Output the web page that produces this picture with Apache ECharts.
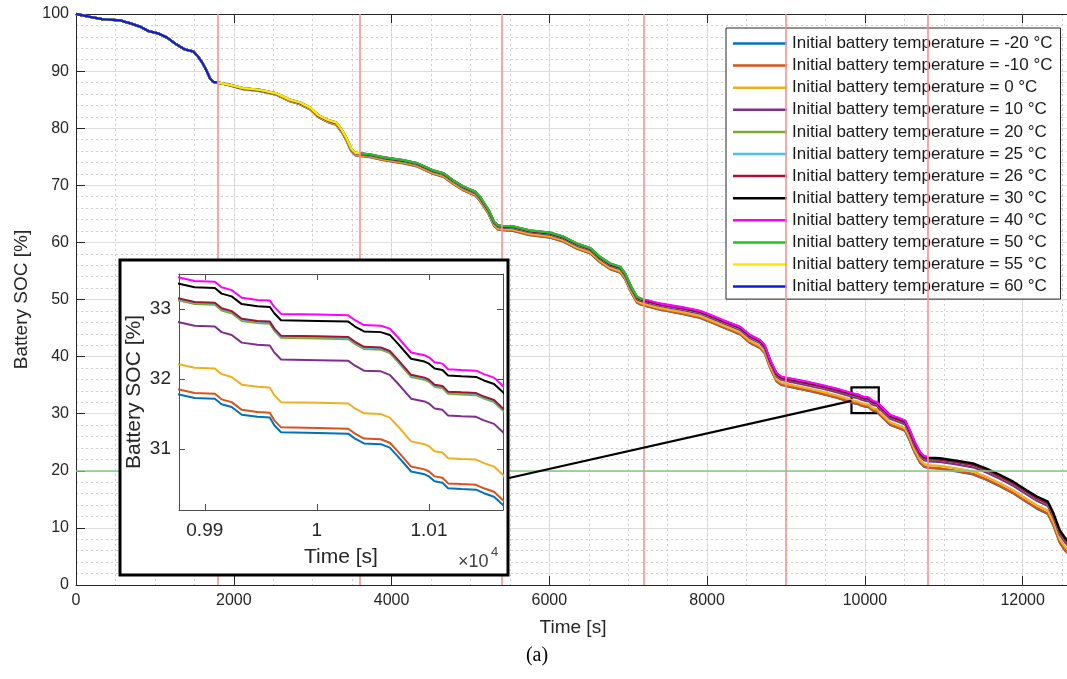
<!DOCTYPE html>
<html>
<head>
<meta charset="utf-8">
<script src="https://cdn.jsdelivr.net/npm/echarts@6/dist/echarts.min.js"></script>
<style>
html, body { margin: 0; padding: 0; background: #ffffff; }
#chart { width: 1067px; height: 679px; }
</style>
</head>
<body>
<div id="chart"></div>
<script>
// ---- Sample times [s] shared by every temperature case ----
const timeSec = [
  0, 180, 330, 560, 700, 810, 920, 1040, 1150, 1280, 1380, 1490, 1550, 1600, 1650, 1700, 1740, 1800,
  1950, 2120, 2330, 2540, 2710, 2840, 2970, 3070, 3200, 3300, 3370, 3430, 3490, 3540, 3600,
  3730, 3900, 4150, 4320, 4530, 4660, 4780, 4910, 5060, 5120, 5230, 5300, 5350, 5400,
  5540, 5750, 6010, 6180, 6350, 6520, 6640, 6770, 6900, 6960, 7040, 7110, 7150, 7200,
  7400, 7700, 7910, 8040, 8200, 8420, 8540, 8670, 8730, 8800, 8880, 8940, 9000,
  9260, 9430, 9640,
  9877, 9891, 9909, 9915, 9924, 9933, 9947, 9958, 9962, 9968, 10001, 10028, 10034, 10042, 10057,
  10065, 10072, 10078, 10084, 10096, 10100, 10105, 10112, 10117, 10129, 10142, 10149, 10158, 10166,
  10190, 10320, 10440, 10510, 10570, 10630, 10700, 10750, 10800,
  10950, 11160, 11370, 11540, 11710, 11880, 12050, 12180, 12320, 12390, 12470, 12540, 12600
];

// ---- Battery SOC [%] per initial battery temperature ----
const socM20 = [
  100, 99.5, 99.1, 98.9, 98.3, 97.8, 97.0, 96.6, 95.9, 94.6, 93.8, 93.4, 92.5, 91.5, 90.2, 88.7, 88.1, 88.0,
  87.49, 86.85, 86.51, 85.87, 84.73, 84.21, 83.28, 81.96, 81.03, 80.61, 79.30, 77.79, 75.97, 75.26, 75.15,
  74.93, 74.40, 73.86, 73.33, 72.00, 71.47, 70.25, 69.13, 68.21, 67.30, 64.98, 62.87, 62.26, 62.15,
  62.03, 61.29, 60.85, 60.12, 58.89, 58.06, 56.54, 55.32, 54.70, 53.59, 51.18, 49.47, 49.16, 48.95,
  48.21, 47.44, 46.79, 46.06, 45.13, 43.88, 42.45, 41.52, 40.61, 37.99, 35.68, 35.06, 34.85,
  34.09, 33.55, 32.80,
  31.78, 31.73, 31.72, 31.64, 31.60, 31.49, 31.46, 31.45, 31.34, 31.24, 31.23, 31.22, 31.15, 31.08, 31.07,
  31.02, 30.90, 30.79, 30.68, 30.64, 30.61, 30.54, 30.52, 30.44, 30.43, 30.42, 30.37, 30.32, 30.20,
  29.78, 28.04, 27.41, 26.99, 25.27, 23.25, 21.43, 20.72, 20.50,
  20.37, 19.92, 19.37, 18.43, 17.29, 16.05, 14.51, 13.38, 12.44, 10.43, 7.41, 5.99, 5.18
];
const socM10 = [
  100, 99.5, 99.1, 98.9, 98.3, 97.8, 97.0, 96.6, 95.9, 94.6, 93.8, 93.4, 92.5, 91.5, 90.2, 88.7, 88.1, 88.0,
  87.49, 86.86, 86.52, 85.88, 84.74, 84.22, 83.29, 81.97, 81.05, 80.63, 79.31, 77.80, 75.99, 75.28, 75.17,
  74.95, 74.42, 73.88, 73.35, 72.02, 71.50, 70.28, 69.16, 68.24, 67.33, 65.01, 62.90, 62.29, 62.18,
  62.06, 61.32, 60.88, 60.16, 58.93, 58.10, 56.58, 55.36, 54.74, 53.63, 51.22, 49.51, 49.20, 48.99,
  48.25, 47.49, 46.84, 46.11, 45.18, 43.93, 42.51, 41.58, 40.67, 38.05, 35.73, 35.12, 34.91,
  34.15, 33.61, 32.86,
  31.85, 31.80, 31.79, 31.71, 31.67, 31.56, 31.53, 31.52, 31.41, 31.31, 31.30, 31.29, 31.22, 31.15, 31.14,
  31.09, 30.97, 30.86, 30.75, 30.71, 30.68, 30.61, 30.59, 30.51, 30.50, 30.49, 30.44, 30.39, 30.27,
  29.85, 28.11, 27.48, 27.06, 25.34, 23.33, 21.51, 20.79, 20.58,
  20.44, 20.00, 19.45, 18.51, 17.37, 16.13, 14.60, 13.47, 12.53, 10.52, 7.50, 6.08, 5.27
];
const soc0 = [
  100, 99.5, 99.1, 98.9, 98.3, 97.8, 97.0, 96.6, 95.9, 94.6, 93.8, 93.4, 92.5, 91.5, 90.2, 88.7, 88.1, 88.0,
  87.52, 86.89, 86.56, 85.93, 84.80, 84.28, 83.36, 82.05, 81.13, 80.71, 79.40, 77.89, 76.08, 75.37, 75.27,
  75.05, 74.53, 74.00, 73.48, 72.15, 71.63, 70.42, 69.30, 68.38, 67.48, 65.16, 63.05, 62.45, 62.34,
  62.22, 61.50, 61.07, 60.34, 59.12, 58.30, 56.79, 55.57, 54.96, 53.85, 51.44, 49.73, 49.42, 49.22,
  48.49, 47.74, 47.10, 46.38, 45.45, 44.22, 42.80, 41.87, 40.96, 38.35, 36.04, 35.43, 35.22,
  34.48, 33.95, 33.21,
  32.21, 32.16, 32.15, 32.07, 32.03, 31.92, 31.89, 31.88, 31.77, 31.67, 31.66, 31.65, 31.58, 31.51, 31.50,
  31.45, 31.33, 31.22, 31.11, 31.07, 31.04, 30.97, 30.95, 30.87, 30.86, 30.85, 30.80, 30.75, 30.63,
  30.22, 28.49, 27.87, 27.45, 25.74, 23.72, 21.91, 21.20, 20.98,
  20.86, 20.43, 19.89, 18.96, 17.83, 16.60, 15.07, 13.95, 13.03, 11.01, 8.00, 6.59, 5.78
];
const soc10 = [
  100, 99.5, 99.1, 98.9, 98.3, 97.8, 97.0, 96.6, 95.9, 94.6, 93.8, 93.4, 92.5, 91.5, 90.2, 88.7, 88.1, 88.0,
  87.56, 86.94, 86.63, 86.01, 84.90, 84.39, 83.48, 82.17, 81.26, 80.85, 79.55, 78.04, 76.24, 75.53, 75.43,
  75.22, 74.71, 74.19, 73.68, 72.37, 71.86, 70.65, 69.54, 68.63, 67.73, 65.42, 63.32, 62.71, 62.61,
  62.50, 61.79, 61.37, 60.66, 59.45, 58.64, 57.13, 55.92, 55.32, 54.21, 51.81, 50.10, 49.80, 49.60,
  48.88, 48.15, 47.54, 46.82, 45.91, 44.69, 43.28, 42.37, 41.47, 38.86, 36.55, 35.95, 35.74,
  35.02, 34.50, 33.78,
  32.81, 32.76, 32.75, 32.67, 32.63, 32.52, 32.49, 32.48, 32.38, 32.28, 32.27, 32.26, 32.19, 32.12, 32.11,
  32.06, 31.94, 31.83, 31.72, 31.68, 31.65, 31.58, 31.56, 31.48, 31.47, 31.46, 31.41, 31.36, 31.24,
  30.84, 29.12, 28.51, 28.10, 26.40, 24.39, 22.58, 21.87, 21.67,
  21.56, 21.14, 20.62, 19.71, 18.60, 17.38, 15.87, 14.76, 13.85, 11.84, 8.83, 7.43, 6.62
];
const soc20 = [
  100, 99.5, 99.1, 98.9, 98.3, 97.8, 97.0, 96.6, 95.9, 94.6, 93.8, 93.4, 92.5, 91.5, 90.2, 88.7, 88.1, 88.0,
  87.57, 86.96, 86.66, 86.05, 84.94, 84.44, 83.53, 82.23, 81.32, 80.92, 79.62, 78.11, 76.31, 75.61, 75.51,
  75.29, 74.79, 74.28, 73.78, 72.47, 71.96, 70.76, 69.66, 68.75, 67.85, 65.55, 63.44, 62.84, 62.74,
  62.64, 61.93, 61.52, 60.82, 59.61, 58.81, 57.30, 56.10, 55.50, 54.39, 51.99, 50.29, 49.99, 49.79,
  49.07, 48.36, 47.75, 47.04, 46.13, 44.93, 43.52, 42.62, 41.71, 39.11, 36.81, 36.20, 36.00,
  35.29, 34.78, 34.07,
  33.12, 33.07, 33.06, 32.98, 32.94, 32.83, 32.80, 32.79, 32.69, 32.59, 32.58, 32.57, 32.50, 32.43, 32.42,
  32.37, 32.25, 32.14, 32.03, 31.99, 31.96, 31.89, 31.87, 31.79, 31.78, 31.77, 31.72, 31.67, 31.55,
  31.14, 29.44, 28.83, 28.43, 26.72, 24.72, 22.91, 22.21, 22.01,
  21.91, 21.50, 20.99, 20.09, 18.98, 17.78, 16.26, 15.16, 14.25, 12.25, 9.25, 7.84, 7.04
];
const soc25 = [
  100, 99.5, 99.1, 98.9, 98.3, 97.8, 97.0, 96.6, 95.9, 94.6, 93.8, 93.4, 92.5, 91.5, 90.2, 88.7, 88.1, 88.0,
  87.57, 86.96, 86.66, 86.05, 84.94, 84.44, 83.53, 82.23, 81.32, 80.92, 79.62, 78.11, 76.31, 75.61, 75.51,
  75.30, 74.80, 74.29, 73.79, 72.48, 71.97, 70.77, 69.67, 68.76, 67.86, 65.56, 63.45, 62.85, 62.75,
  62.65, 61.94, 61.53, 60.83, 59.62, 58.82, 57.31, 56.11, 55.51, 54.40, 52.00, 50.30, 50.00, 49.80,
  49.09, 48.38, 47.77, 47.06, 46.15, 44.95, 43.54, 42.64, 41.73, 39.13, 36.83, 36.22, 36.02,
  35.31, 34.80, 34.09,
  33.14, 33.09, 33.08, 33.00, 32.96, 32.85, 32.82, 32.81, 32.71, 32.61, 32.60, 32.59, 32.52, 32.45, 32.44,
  32.39, 32.27, 32.16, 32.05, 32.01, 31.98, 31.91, 31.89, 31.81, 31.80, 31.79, 31.74, 31.69, 31.57,
  31.17, 29.47, 28.86, 28.46, 26.75, 24.75, 22.94, 22.24, 22.04,
  21.94, 21.53, 21.02, 20.12, 19.01, 17.81, 16.30, 15.20, 14.29, 12.29, 9.29, 7.88, 7.08
];
const soc26 = [
  100, 99.5, 99.1, 98.9, 98.3, 97.8, 97.0, 96.6, 95.9, 94.6, 93.8, 93.4, 92.5, 91.5, 90.2, 88.7, 88.1, 88.0,
  87.58, 86.97, 86.67, 86.06, 84.95, 84.45, 83.54, 82.24, 81.33, 80.93, 79.63, 78.12, 76.32, 75.62, 75.52,
  75.31, 74.81, 74.30, 73.80, 72.49, 71.98, 70.78, 69.68, 68.77, 67.87, 65.57, 63.46, 62.86, 62.76,
  62.66, 61.95, 61.54, 60.84, 59.63, 58.83, 57.32, 56.12, 55.52, 54.41, 52.01, 50.31, 50.01, 49.81,
  49.10, 48.39, 47.78, 47.07, 46.16, 44.96, 43.55, 42.65, 41.74, 39.14, 36.84, 36.23, 36.03,
  35.32, 34.81, 34.10,
  33.15, 33.10, 33.09, 33.01, 32.97, 32.86, 32.83, 32.82, 32.72, 32.62, 32.61, 32.60, 32.53, 32.46, 32.45,
  32.40, 32.28, 32.17, 32.06, 32.02, 31.99, 31.92, 31.90, 31.82, 31.81, 31.80, 31.75, 31.70, 31.58,
  31.18, 29.48, 28.87, 28.47, 26.76, 24.76, 22.95, 22.25, 22.05,
  21.95, 21.54, 21.03, 20.13, 19.02, 17.82, 16.31, 15.21, 14.30, 12.30, 9.30, 7.89, 7.09
];
const soc30 = [
  100, 99.5, 99.1, 98.9, 98.3, 97.8, 97.0, 96.6, 95.9, 94.6, 93.8, 93.4, 92.5, 91.5, 90.2, 88.7, 88.1, 88.0,
  87.59, 86.99, 86.69, 86.09, 84.99, 84.48, 83.58, 82.28, 81.38, 80.98, 79.68, 78.18, 76.38, 75.68, 75.58,
  75.37, 74.87, 74.37, 73.87, 72.57, 72.07, 70.86, 69.76, 68.86, 67.96, 65.66, 63.56, 62.96, 62.86,
  62.76, 62.06, 61.65, 60.95, 59.75, 58.95, 57.45, 56.25, 55.65, 54.55, 52.15, 50.44, 50.14, 49.94,
  49.24, 48.54, 47.93, 47.23, 46.33, 45.13, 43.73, 42.83, 41.93, 39.32, 37.02, 36.42, 36.22,
  35.52, 35.02, 34.31,
  33.36, 33.31, 33.30, 33.22, 33.18, 33.07, 33.04, 33.03, 32.94, 32.84, 32.83, 32.82, 32.75, 32.68, 32.67,
  32.63, 32.51, 32.40, 32.29, 32.25, 32.22, 32.15, 32.13, 32.05, 32.04, 32.03, 31.98, 31.93, 31.81,
  31.41, 29.71, 29.10, 28.70, 27.00, 25.00, 23.20, 22.50, 22.30,
  22.2, 21.8, 21.3, 20.4, 19.3, 18.1, 16.6, 15.5, 14.6, 12.6, 9.6, 8.2, 7.4
];
// the warmer cases stop early (runs end at a cycle boundary)
const soc40 = [
  100, 99.5, 99.1, 98.9, 98.3, 97.8, 97.0, 96.6, 95.9, 94.6, 93.8, 93.4, 92.5, 91.5, 90.2, 88.7, 88.1, 88.0,
  87.6, 87.0, 86.7, 86.1, 85.0, 84.5, 83.6, 82.3, 81.4, 81.0, 79.7, 78.2, 76.4, 75.7, 75.6,
  75.4, 74.9, 74.4, 73.9, 72.6, 72.1, 70.9, 69.8, 68.9, 68.0, 65.7, 63.6, 63.0, 62.9,
  62.8, 62.1, 61.7, 61.0, 59.8, 59.0, 57.5, 56.3, 55.7, 54.6, 52.2, 50.5, 50.2, 50.0,
  49.3, 48.6, 48.0, 47.3, 46.4, 45.2, 43.8, 42.9, 42.0, 39.4, 37.1, 36.5, 36.3,
  35.6, 35.1, 34.4,
  33.45, 33.40, 33.39, 33.31, 33.27, 33.16, 33.13, 33.12, 33.03, 32.93, 32.92, 32.91, 32.84, 32.77, 32.76,
  32.72, 32.60, 32.49, 32.38, 32.34, 32.31, 32.24, 32.22, 32.14, 32.13, 32.12, 32.07, 32.02, 31.90,
  31.5, 29.8, 29.2, 28.8, 27.1, 25.1, 23.3, 22.6, 22.4
];
const soc50 = [
  100, 99.5, 99.1, 98.9, 98.3, 97.8, 97.0, 96.6, 95.9, 94.6, 93.8, 93.4, 92.5, 91.5, 90.2, 88.7, 88.1, 88.0,
  87.6, 87.0, 86.7, 86.1, 85.0, 84.5, 83.6, 82.3, 81.4, 81.0, 79.7, 78.2, 76.4, 75.7, 75.6,
  75.4, 74.9, 74.4, 73.9, 72.6, 72.1, 70.9, 69.8, 68.9, 68.0, 65.7, 63.6, 63.0, 62.9,
  62.8, 62.1, 61.7, 61.0, 59.8, 59.0, 57.5, 56.3, 55.7, 54.6, 52.2, 50.5, 50.2, 50.0
];
const soc55 = [
  100, 99.5, 99.1, 98.9, 98.3, 97.8, 97.0, 96.6, 95.9, 94.6, 93.8, 93.4, 92.5, 91.5, 90.2, 88.7, 88.1, 88.0,
  87.6, 87.0, 86.7, 86.1, 85.0, 84.5, 83.6, 82.3, 81.4, 81.0, 79.7, 78.2, 76.4, 75.7, 75.6
];
const soc60 = [
  100, 99.5, 99.1, 98.9, 98.3, 97.8, 97.0, 96.6, 95.9, 94.6, 93.8, 93.4, 92.5, 91.5, 90.2, 88.7, 88.1, 88.0
];

const seriesNames = [
  'Initial battery temperature = -20 °C',
  'Initial battery temperature = -10 °C',
  'Initial battery temperature = 0 °C',
  'Initial battery temperature = 10 °C',
  'Initial battery temperature = 20 °C',
  'Initial battery temperature = 25 °C',
  'Initial battery temperature = 26 °C',
  'Initial battery temperature = 30 °C',
  'Initial battery temperature = 40 °C',
  'Initial battery temperature = 50 °C',
  'Initial battery temperature = 55 °C',
  'Initial battery temperature = 60 °C'
];
const seriesColors = [
  '#0072BD', '#D95319', '#EDB120', '#7E2F8E', '#77AC30', '#4DBEEE',
  '#A2142F', '#000000', '#FF00FF', '#1FC41F', '#FFE800', '#0B1EE0'
];
const socSeries = [socM20, socM10, soc0, soc10, soc20, soc25, soc26, soc30, soc40, soc50, soc55, soc60];

// drive-cycle boundaries and the 20 % reference level
const cycleBoundaries = [1800, 3600, 5400, 7200, 9000, 10800];
const socReference = 20;

// main axes ticks
const mainTimeTicks = [0, 2000, 4000, 6000, 8000, 10000, 12000];
const mainSocTicks = [0, 10, 20, 30, 40, 50, 60, 70, 80, 90, 100];

// inset (zoomed) axes
const insetTimeRange = [9877, 10166];
const insetSocRange = [30.13, 33.5];
const insetMajorTimes = [9900, 10000, 10100];
const insetTimeLabels = ['0.99', '1', '1.01'];
const insetMinorTimes = [9925, 9950, 9975, 10025, 10050, 10075, 10125, 10150];
const insetMajorSoc = [31, 32, 33];
const insetMinorSoc = [30.2, 30.4, 30.6, 30.8, 31.2, 31.4, 31.6, 31.8, 32.2, 32.4, 32.6, 32.8, 33.2, 33.4];

// window on the main plot that the inset magnifies
const zoomWindowTime = [9830, 10176];
const zoomWindowSoc = [30.1, 34.6];

const FONT = 'Liberation Sans';
const AXIS_COLOR = '#262626';
const GRID_COLOR = '#dedede';
const MINOR_COLOR = '#cfcfcf';

const toPairs = vals => vals.map((v, k) => [timeSec[k], v]);

const mainLines = socSeries.map((vals, i) => ({
  type: 'line', name: seriesNames[i], xAxisIndex: 0, yAxisIndex: 0,
  data: toPairs(vals), symbol: 'none', showSymbol: false, silent: true,
  z: 2, lineStyle: { width: 2.3, color: seriesColors[i] }, itemStyle: { color: seriesColors[i] },
  emphasis: { disabled: true }
}));
const insetLines = socSeries.map((vals, i) => ({
  type: 'line', name: seriesNames[i], xAxisIndex: 3, yAxisIndex: 1,
  data: toPairs(vals), symbol: 'none', showSymbol: false, silent: true,
  zlevel: 1, z: 4, lineStyle: { width: 2, color: seriesColors[i] }, itemStyle: { color: seriesColors[i] },
  emphasis: { disabled: true }
}));

// reference lines on the main plot
const referenceLines = {
  type: 'line', xAxisIndex: 0, yAxisIndex: 0, data: [], silent: true, z: 1,
  markLine: {
    silent: true, symbol: 'none', animation: false, label: { show: false },
    data: cycleBoundaries.map(t => ({ xAxis: t, lineStyle: { color: '#ff8f8f', width: 1.6, type: 'solid' } }))
      .concat([{ yAxis: socReference, lineStyle: { color: '#80cc80', width: 1.6, type: 'solid' } }])
  }
};

// zoom window box and connector
const zoomMarker = {
  type: 'line', xAxisIndex: 0, yAxisIndex: 0, data: [], silent: true, z: 8,
  markArea: {
    silent: true, animation: false,
    itemStyle: { color: 'rgba(0,0,0,0)', borderColor: '#000', borderWidth: 2.2 },
    data: [[{ coord: [zoomWindowTime[0], zoomWindowSoc[1]] }, { coord: [zoomWindowTime[1], zoomWindowSoc[0]] }]]
  },
  markLine: {
    silent: true, symbol: 'none', animation: false, label: { show: false },
    lineStyle: { color: '#000', width: 2.2, type: 'solid' },
    data: [[{ x: 509, y: 478 }, { coord: [zoomWindowTime[0], (zoomWindowSoc[0] + zoomWindowSoc[1]) / 2 - 0.1] }]]
  }
};

// inset grid lines
const insetGridLines = {
  type: 'line', xAxisIndex: 3, yAxisIndex: 1, data: [], silent: true, zlevel: 1, z: 2,
  markLine: {
    silent: true, symbol: 'none', animation: false, label: { show: false },
    data: []
      .concat(insetMinorTimes.map(t => ({ xAxis: t, lineStyle: { color: MINOR_COLOR, width: 1, type: [2, 3] } })))
      .concat(insetMinorSoc.map(s => ({ yAxis: s, lineStyle: { color: MINOR_COLOR, width: 1, type: [2, 3] } })))
      .concat(insetMajorTimes.map(t => ({ xAxis: t, lineStyle: { color: GRID_COLOR, width: 1, type: 'solid' } })))
      .concat(insetMajorSoc.map(s => ({ yAxis: s, lineStyle: { color: GRID_COLOR, width: 1, type: 'solid' } })))
  }
};

const plainAxis = {
  axisLine: { show: true, lineStyle: { color: AXIS_COLOR, width: 1 } },
  axisTick: { show: true, inside: true, length: 9, lineStyle: { color: AXIS_COLOR, width: 1 } }
};

const option = {
  animation: false,
  backgroundColor: '#ffffff',
  textStyle: { fontFamily: FONT },
  grid: [
    { left: 76, top: 14, width: 994, height: 571, outerBoundsMode: 'none', containLabel: false },
    { left: 179, top: 274, width: 324, height: 236, zlevel: 1, outerBoundsMode: 'none', containLabel: false }
  ],
  legend: {
    data: seriesNames, orient: 'vertical', left: 726, top: 28,
    padding: [7, 8, 4, 7], itemGap: 5.1, itemWidth: 54, itemHeight: 2.5, icon: 'rect',
    selectedMode: false, backgroundColor: '#ffffff', borderColor: '#262626', borderWidth: 1, borderRadius: 0,
    textStyle: { fontFamily: FONT, fontSize: 17, color: '#1a1a1a', lineHeight: 17 }
  },
  xAxis: [
    Object.assign({
      type: 'value', gridIndex: 0, min: 0, max: 12600, interval: 2000, position: 'bottom',
      axisLabel: { fontSize: 16, color: AXIS_COLOR, margin: 8, showMaxLabel: false, fontFamily: FONT,
        formatter: v => (mainTimeTicks.indexOf(v) >= 0 ? String(v) : '') },
      splitLine: { show: true, lineStyle: { color: GRID_COLOR, width: 1 } },
      name: 'Time [s]', nameLocation: 'middle', nameGap: 33,
      nameTextStyle: { fontSize: 19, color: AXIS_COLOR, fontFamily: FONT }
    }, plainAxis),
    {
      type: 'value', gridIndex: 0, min: 0, max: 12600, interval: 500, position: 'bottom',
      axisLine: { show: false }, axisTick: { show: false }, axisLabel: { show: false },
      splitLine: { show: true, lineStyle: { color: MINOR_COLOR, width: 1, type: [2, 3] } }
    },
    Object.assign({
      type: 'value', gridIndex: 0, min: 0, max: 12600, interval: 2000, position: 'top',
      axisLabel: { show: false }, splitLine: { show: false }
    }, plainAxis),
    {
      type: 'value', gridIndex: 1, min: insetTimeRange[0], max: insetTimeRange[1], position: 'bottom', zlevel: 1, z: 3,
      axisLine: { show: true, lineStyle: { color: '#4d4d4d', width: 1 } },
      axisTick: { show: true, inside: true, length: 6, customValues: insetMajorTimes, lineStyle: { color: '#4d4d4d' } },
      axisLabel: { show: true, customValues: insetMajorTimes, fontSize: 19, color: AXIS_COLOR, margin: 11, fontFamily: FONT,
        formatter: v => { const k = insetMajorTimes.indexOf(v); return k >= 0 ? insetTimeLabels[k] : ''; } },
      splitLine: { show: false },
      name: 'Time [s]', nameLocation: 'middle', nameGap: 37,
      nameTextStyle: { fontSize: 21, color: AXIS_COLOR, fontFamily: FONT }
    },
    {
      type: 'value', gridIndex: 1, min: insetTimeRange[0], max: insetTimeRange[1], position: 'top', zlevel: 1, z: 3,
      axisLine: { show: true, lineStyle: { color: '#4d4d4d', width: 1 } },
      axisTick: { show: true, inside: true, length: 6, customValues: insetMajorTimes, lineStyle: { color: '#4d4d4d' } },
      axisLabel: { show: false }, splitLine: { show: false }
    }
  ],
  yAxis: [
    Object.assign({
      type: 'value', gridIndex: 0, min: 0, max: 100, interval: 10, position: 'left',
      axisLabel: { fontSize: 16, color: AXIS_COLOR, margin: 7, fontFamily: FONT,
        formatter: v => (mainSocTicks.indexOf(v) >= 0 ? String(v) : '') },
      splitLine: { show: true, lineStyle: { color: GRID_COLOR, width: 1 } },
      minorTick: { show: false, splitNumber: 5 },
      minorSplitLine: { show: true, lineStyle: { color: MINOR_COLOR, width: 1, type: [2, 3] } },
      name: 'Battery SOC [%]', nameLocation: 'middle', nameGap: 45, nameRotate: 90,
      nameTextStyle: { fontSize: 19, color: AXIS_COLOR, fontFamily: FONT }
    }, plainAxis),
    {
      type: 'value', gridIndex: 1, min: insetSocRange[0], max: insetSocRange[1], position: 'left', zlevel: 1, z: 3,
      axisLine: { show: true, lineStyle: { color: '#4d4d4d', width: 1 } },
      axisTick: { show: true, inside: true, length: 6, customValues: insetMajorSoc, lineStyle: { color: '#4d4d4d' } },
      axisLabel: { show: true, customValues: insetMajorSoc, fontSize: 19, color: AXIS_COLOR, margin: 8, fontFamily: FONT,
        formatter: v => (insetMajorSoc.indexOf(v) >= 0 ? String(v) : '') },
      splitLine: { show: false },
      name: 'Battery SOC [%]', nameLocation: 'middle', nameGap: 34, nameRotate: 90,
      nameTextStyle: { fontSize: 21, color: AXIS_COLOR, fontFamily: FONT }
    },
    {
      type: 'value', gridIndex: 1, min: insetSocRange[0], max: insetSocRange[1], position: 'right', zlevel: 1, z: 3,
      axisLine: { show: true, lineStyle: { color: '#4d4d4d', width: 1 } },
      axisTick: { show: true, inside: true, length: 6, customValues: insetMajorSoc, lineStyle: { color: '#4d4d4d' } },
      axisLabel: { show: false }, splitLine: { show: false }
    }
  ],
  graphic: [
    { type: 'rect', zlevel: 1, z: 0, silent: true,
      shape: { x: 120, y: 260, width: 388, height: 315 },
      style: { fill: '#ffffff', stroke: '#000000', lineWidth: 3 } },
    { type: 'text', zlevel: 1, z: 5, silent: true, x: 458, y: 553,
      style: { text: '×10', fontSize: 18, fontFamily: FONT, fill: '#404040' } },
    { type: 'text', zlevel: 1, z: 5, silent: true, x: 491, y: 546,
      style: { text: '4', fontSize: 13, fontFamily: FONT, fill: '#404040' } },
    { type: 'text', silent: true, x: 537, y: 656,
      style: { text: '(a)', fontSize: 20, fontFamily: 'Liberation Serif', fill: '#000000',
        align: 'center', verticalAlign: 'middle' } }
  ],
  series: [referenceLines].concat(mainLines, [zoomMarker, insetGridLines], insetLines)
};

const chart = echarts.init(document.getElementById('chart'), null, { renderer: 'canvas', width: 1067, height: 679 });
chart.setOption(option);
</script>
</body>
</html>
